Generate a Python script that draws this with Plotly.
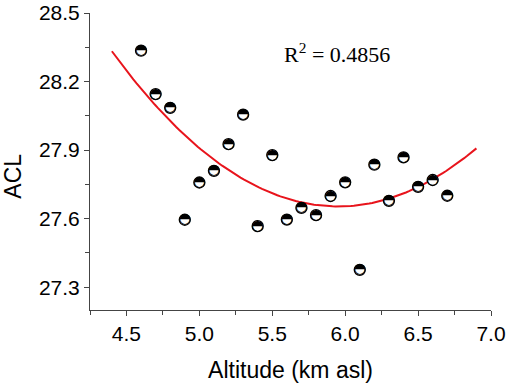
import numpy as np
import plotly.graph_objects as go

altitude = [4.6, 4.7, 4.8, 4.9, 5.0, 5.1, 5.2, 5.3, 5.4, 5.5, 5.6,
            5.7, 5.8, 5.9, 6.0, 6.1, 6.2, 6.3, 6.4, 6.5, 6.6, 6.7]
acl = [28.335, 28.145, 28.085, 27.595, 27.758, 27.809, 27.926, 28.055, 27.567, 27.878, 27.596,
       27.647, 27.615, 27.699, 27.759, 27.376, 27.836, 27.678, 27.868, 27.739, 27.769, 27.700]
fit_range = [4.4, 6.9]
r2_label = "R<sup>2</sup> = 0.4856"

coef = np.polyfit(altitude, acl, 2)
fx = np.linspace(fit_range[0], fit_range[1], 120)
fy = np.polyval(coef, fx)

fig = go.Figure()
fig.add_trace(go.Scatter(x=fx, y=fy, mode="lines",
                         line=dict(color="#e8141c", width=2), hoverinfo="skip"))
fig.add_trace(go.Scatter(x=altitude, y=acl, mode="markers",
                         marker=dict(symbol="circle", size=11, color="white",
                                     line=dict(color="black", width=1.3))))
fig.add_trace(go.Scatter(x=altitude, y=acl, mode="text", text=["◓"] * len(altitude),
                         textposition="middle center",
                         textfont=dict(family="DejaVu Sans", size=14, color="black")))

fig.add_annotation(x=5.947, y=28.325, text=r2_label, showarrow=False,
                   font=dict(family="Liberation Serif", size=22, color="black"))
fig.add_annotation(xref="paper", yref="paper", x=-0.192, y=0.449, text="ACL",
                   textangle=-90, showarrow=False, xanchor="center", yanchor="middle",
                   font=dict(family="Liberation Sans", size=23, color="black"))

axis_common = dict(showline=True, linecolor="#444", linewidth=1, ticks="outside",
                   ticklen=5, tickcolor="#444", showgrid=False, zeroline=False,
                   automargin=False,
                   tickfont=dict(family="Liberation Sans", size=21, color="black"))
fig.update_xaxes(range=[4.25, 7.0], tick0=4.5, dtick=0.5, tickformat=".1f",
                 minor=dict(ticks="outside", ticklen=4, dtick=0.25, tick0=4.25, tickcolor="#444"),
                 title=dict(text="Altitude (km asl)", standoff=17,
                            font=dict(family="Liberation Sans", size=23, color="black")),
                 **axis_common)
fig.update_yaxes(range=[27.2, 28.5], tick0=27.3, dtick=0.3, tickformat=".1f",
                 minor=dict(ticks="outside", ticklen=4, dtick=0.15, tick0=27.15, tickcolor="#444"),
                 **axis_common)
fig.update_layout(width=512, height=383, margin=dict(l=90, r=21, t=13, b=73),
                  paper_bgcolor="white", plot_bgcolor="white", showlegend=False)
fig.write_html("out.html", config={"displayModeBar": False},
               post_script="document.body.style.margin='0';")
